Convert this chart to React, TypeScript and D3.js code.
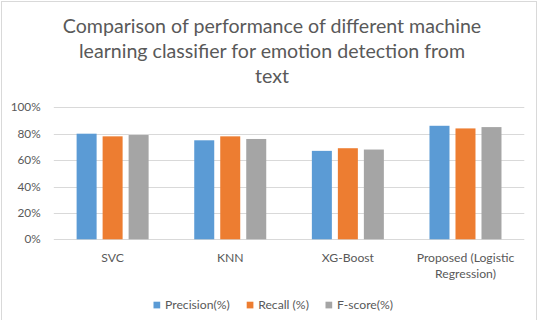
import React from "react";
import * as d3 from "d3";

const categories = ["SVC", "KNN", "XG-Boost", "Proposed (Logistic Regression)"];
const categoryLines = [["SVC"], ["KNN"], ["XG-Boost"], ["Proposed (Logistic", "Regression)"]];
const seriesNames = ["Precision(%)", "Recall (%)", "F-score(%)"];
const precision = [80, 75, 67, 86];
const recall = [78, 78, 69, 84];
const fscore = [79, 76, 68, 85];
const yTicks = [0, 20, 40, 60, 80, 100];
const titleLines = [
  "Comparison of performance of different machine",
  "learning classifier for emotion detection from",
  "text",
];
const colors = ["#5B9BD5", "#ED7D31", "#A5A5A5"];

export default function App() {
  const W = 544, H = 320;
  const left = 53.8, right = 524.3, top = 107.3, bottom = 239.3;
  const x0 = d3.scaleBand<string>().domain(categories).range([left, right]);
  const x1 = d3.scaleBand<string>().domain(seriesNames).range([-36, 36]).paddingInner(6 / 26).paddingOuter(0);
  const y = d3.scaleLinear().domain([0, 100]).range([bottom, top]);
  const data = [precision, recall, fscore];
  const font = "Lato, 'Open Sans', sans-serif";
  const textColor = "#595959";
  const legendX = [153.5, 246.7, 325.5];

  return (
    <svg width={W} height={H} style={{ position: "absolute", left: 0, top: 0, background: "#fff" }} fontFamily={font}>
      <rect x={1.5} y={1.5} width={535} height={340} fill="#fff" stroke="#d9d9d9" />
      {titleLines.map((t, i) => (
        <text key={i} x={272} y={33.3 + i * 24.7} textAnchor="middle" fontSize={19.6} fill={textColor}>{t}</text>
      ))}
      {yTicks.map((t) => (
        <g key={t}>
          <line x1={left} x2={right} y1={Math.round(y(t)) + 0.5} y2={Math.round(y(t)) + 0.5} stroke="#d9d9d9" strokeWidth={1} />
          <text x={40.7} y={y(t)} dy="0.35em" textAnchor="end" fontSize={11.8} fill={textColor}>{t}%</text>
        </g>
      ))}
      {categories.map((c, ci) => {
        const cx = x0(c)! + x0.bandwidth() / 2;
        return (
          <g key={c}>
            {data.map((s, si) => (
              <rect key={si} x={cx + x1(seriesNames[si])!} y={y(s[ci])} width={x1.bandwidth()} height={y(0) - y(s[ci])} fill={colors[si]} />
            ))}
            {categoryLines[ci].map((l, li) => (
              <text key={li} x={cx} y={257.5 + li * 16.3} dy="0.35em" textAnchor="middle" fontSize={12.2} fill={textColor}>{l}</text>
            ))}
          </g>
        );
      })}
      {seriesNames.map((n, i) => (
        <g key={n}>
          <rect x={legendX[i]} y={301.7} width={6.7} height={6.7} fill={colors[i]} />
          <text x={legendX[i] + 11.5} y={305} dy="0.35em" fontSize={12.2} fill={textColor}>{n}</text>
        </g>
      ))}
    </svg>
  );
}
